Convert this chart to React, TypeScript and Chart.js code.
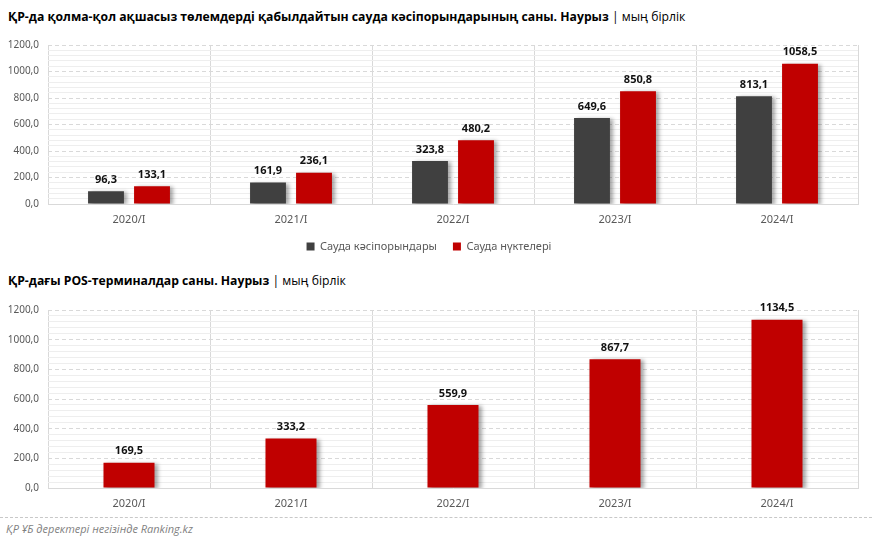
import React, { useEffect, useRef } from "react";
import { Chart, registerables } from "chart.js";

Chart.register(...registerables);

const categories = ["2020/I", "2021/I", "2022/I", "2023/I", "2024/I"];
const enterprises = [96.3, 161.9, 323.8, 649.6, 813.1];
const tradePoints = [133.1, 236.1, 480.2, 850.8, 1058.5];
const posTerminals = [169.5, 333.2, 559.9, 867.7, 1134.5];

const title1Bold = "ҚР-да қолма-қол ақшасыз төлемдерді қабылдайтын сауда кәсіпорындарының саны. Наурыз";
const title2Bold = "ҚР-дағы POS-терминалдар саны. Наурыз";
const titleUnit = " | мың бірлік";
const seriesNames = ["Сауда кәсіпорындары", "Сауда нүктелері"];
const footer = "ҚР ҰБ деректері негізінде Ranking.kz";

const DARK = "#404040";
const RED = "#C00000";
const FONT = "'Noto Sans', 'DejaVu Sans', sans-serif";

const fmt = (v: number) => v.toFixed(1).replace(".", ",");

const barPlugin = {
  id: "barDeco",
  beforeDatasetsDraw(chart: any) {
    const ctx = chart.ctx;
    ctx.save();
    ctx.shadowColor = "rgba(0,0,0,0.35)";
    ctx.shadowBlur = 4;
    ctx.shadowOffsetX = 3;
    ctx.shadowOffsetY = 1;
  },
  afterDatasetsDraw(chart: any) {
    const ctx = chart.ctx;
    ctx.restore();
    ctx.save();
    ctx.font = `bold 11px ${FONT}`;
    ctx.fillStyle = "#111111";
    ctx.textAlign = "center";
    ctx.textBaseline = "bottom";
    chart.data.datasets.forEach((ds: any, i: number) => {
      const meta = chart.getDatasetMeta(i);
      meta.data.forEach((el: any, j: number) => {
        ctx.fillText(fmt(ds.data[j]), el.x, el.y - 6);
      });
    });
    ctx.restore();
  },
};

function makeOptions(showLegend: boolean, padTop: number, xHeight: number): any {
  return {
    responsive: false,
    animation: false,
    layout: { padding: { top: padTop, left: 0, right: 14, bottom: 0 } },
    plugins: {
      legend: {
        display: showLegend,
        position: "bottom",
        labels: {
          boxWidth: 8,
          boxHeight: 8,
          padding: 16,
          color: "#595959",
          font: { family: FONT, size: 11 },
        },
      },
      tooltip: { enabled: false },
    },
    scales: {
      x: {
        grid: { color: "#d9d9d9", drawTicks: false, offset: true },
        border: { color: "#d9d9d9" },
        ticks: { color: "#595959", padding: 9, font: { family: FONT, size: 11 } },
        afterFit: (s: any) => {
          s.height = xHeight;
        },
      },
      y: {
        min: 0,
        max: 1200,
        position: "left",
        ticks: {
          stepSize: 200,
          padding: 9,
          color: "#595959",
          font: { family: FONT, size: 10 },
          callback: (v: any) => fmt(Number(v)),
        },
        grid: { color: "#d9d9d9", drawTicks: false },
        border: { display: false, dash: [4, 3] },
        afterFit: (s: any) => {
          s.width = 48;
        },
      },
      y2: {
        min: 0,
        max: 1200,
        position: "left",
        ticks: { stepSize: 40, display: false },
        grid: {
          drawTicks: false,
          color: (c: any) =>
            c.tick && Math.round(c.tick.value) % 200 === 0 ? "rgba(0,0,0,0)" : "#eeeeee",
        },
        border: { display: false },
        afterFit: (s: any) => {
          s.width = 0;
        },
      },
    },
  };
}

export default function App() {
  const ref1 = useRef<HTMLCanvasElement>(null);
  const ref2 = useRef<HTMLCanvasElement>(null);

  useEffect(() => {
    const c1 = new Chart(ref1.current!, {
      type: "bar",
      data: {
        labels: categories,
        datasets: [
          {
            label: seriesNames[0],
            data: enterprises,
            backgroundColor: DARK,
            categoryPercentage: 0.568,
            barPercentage: 0.78,
          },
          {
            label: seriesNames[1],
            data: tradePoints,
            backgroundColor: RED,
            categoryPercentage: 0.568,
            barPercentage: 0.78,
          },
        ],
      },
      options: makeOptions(true, 11, 21),
      plugins: [barPlugin],
    });
    const c2 = new Chart(ref2.current!, {
      type: "bar",
      data: {
        labels: categories,
        datasets: [
          {
            label: "POS",
            data: posTerminals,
            backgroundColor: RED,
            categoryPercentage: 0.315,
            barPercentage: 1,
          },
        ],
      },
      options: makeOptions(false, 14, 19),
      plugins: [barPlugin],
    });
    return () => {
      c1.destroy();
      c2.destroy();
    };
  }, []);

  const titleStyle: React.CSSProperties = {
    position: "absolute",
    left: 8,
    fontFamily: "'Open Sans', 'Noto Sans', sans-serif",
    fontSize: 12.2,
    color: "#000",
    whiteSpace: "nowrap",
    lineHeight: "18px",
  };

  return (
    <div
      style={{
        position: "absolute",
        left: 0,
        top: 0,
        width: 872,
        height: 542,
        background: "#fff",
        overflow: "hidden",
      }}
    >
      <div style={{ ...titleStyle, top: 8 }}>
        <b>{title1Bold}</b>
        <span>{titleUnit}</span>
      </div>
      <canvas
        ref={ref1}
        width={872}
        height={232}
        style={{ position: "absolute", left: 0, top: 30, width: 872, height: 232 }}
      />
      <div style={{ ...titleStyle, top: 272 }}>
        <b>{title2Bold}</b>
        <span>{titleUnit}</span>
      </div>
      <canvas
        ref={ref2}
        width={872}
        height={212}
        style={{ position: "absolute", left: 0, top: 295, width: 872, height: 212 }}
      />
      <div
        style={{
          position: "absolute",
          left: 0,
          top: 517,
          width: 872,
          borderTop: "1px dashed #c8c8c8",
        }}
      />
      <div
        style={{
          position: "absolute",
          left: 6,
          top: 521,
          fontFamily: "'Open Sans', 'Noto Sans', sans-serif",
          fontStyle: "italic",
          fontSize: 11,
          color: "#7f7f7f",
          whiteSpace: "nowrap",
          lineHeight: "16px",
        }}
      >
        {footer}
      </div>
    </div>
  );
}
